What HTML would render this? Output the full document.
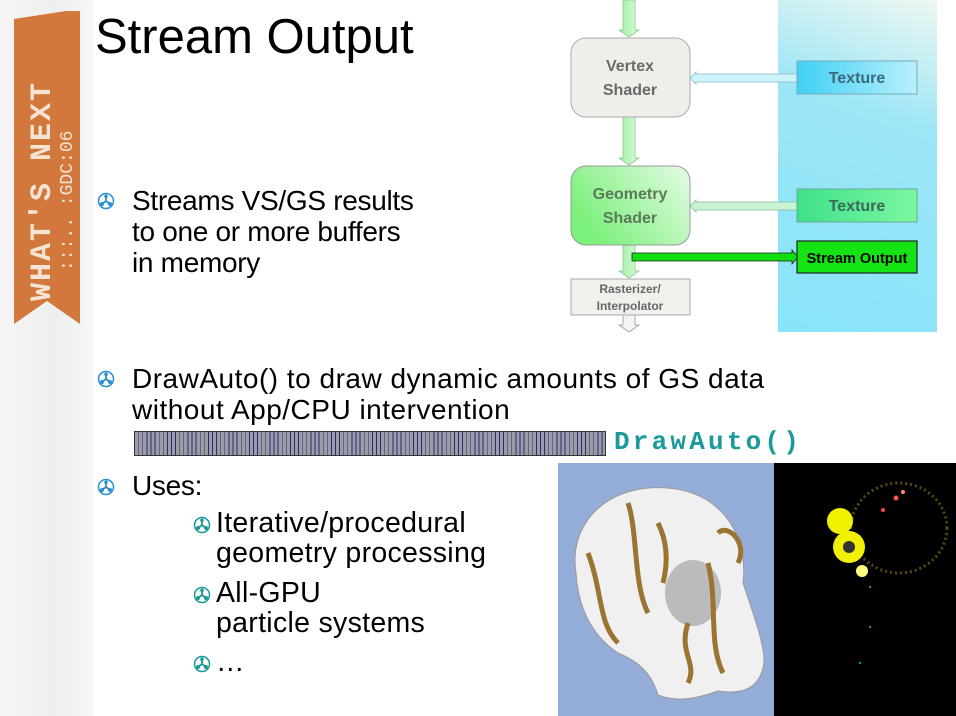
<!DOCTYPE html>
<html><head><meta charset="utf-8"><style>
body{margin:0;width:956px;height:716px;overflow:hidden;background:#fff;position:relative;font-family:"Liberation Sans",sans-serif}
.a{position:absolute;white-space:nowrap}
.t{font-size:28px;color:#000;line-height:31px;letter-spacing:-0.3px}
.s{font-size:28.5px;line-height:30px;letter-spacing:0.3px}
</style></head><body>
<div class="a" style="left:0;top:0;width:94px;height:716px;background:linear-gradient(90deg,#f4f5f4,#eef0ee 60%,#f6f7f6)"></div>
<svg class="a" style="left:14px;top:11px" width="66" height="313"><polygon points="0,8 52,0 66,0 66,313 33,290 0,313" fill="#d2783c"/>
<text x="0" y="0" transform="translate(36,290) rotate(-90)" font-family="Liberation Mono" font-weight="bold" font-size="30" fill="#f6e3d3" letter-spacing="2">WHAT'S NEXT</text>
<text x="0" y="0" transform="translate(58,260) rotate(-90)" font-family="Liberation Mono" font-size="18" fill="#f6e3d3">:::.. :GDC:06</text></svg>
<div class="a" style="left:95px;top:9px;font-size:49px">Stream Output</div>

<svg width="0" height="0" style="position:absolute"><defs><g id="b"><circle cx="9" cy="9" r="7.5" fill="none" stroke="currentColor" stroke-width="1.5"/><path d="M9 9V4M9 9L5 12M9 9L13 12" stroke="currentColor" stroke-width="1.8"/><circle cx="9" cy="4.3" r="1.8" fill="currentColor"/><circle cx="5" cy="12" r="2" fill="currentColor"/><circle cx="13" cy="12" r="2" fill="currentColor"/></g></defs></svg>
<svg class="a" style="left:97px;top:192px;color:#2a8fd0" width="18" height="18"><use href="#b"/></svg>
<svg class="a" style="left:97px;top:370px;color:#2a8fd0" width="18" height="18"><use href="#b"/></svg>
<svg class="a" style="left:97px;top:478px;color:#2a8fd0" width="18" height="18"><use href="#b"/></svg>
<svg class="a" style="left:193px;top:516px;color:#1a9a9a" width="18" height="18"><use href="#b"/></svg>
<svg class="a" style="left:193px;top:586px;color:#1a9a9a" width="18" height="18"><use href="#b"/></svg>
<svg class="a" style="left:193px;top:655px;color:#1a9a9a" width="18" height="18"><use href="#b"/></svg>

<div class="a t" style="left:132px;top:185px">Streams VS/GS results<br>to one or more buffers<br>in memory</div>
<div class="a t" style="left:132px;top:363px;letter-spacing:0.5px">DrawAuto() to draw dynamic amounts of GS data<br>without App/CPU intervention</div>
<div class="a t" style="left:132px;top:470px">Uses:</div>
<div class="a s" style="left:216px;top:508px">Iterative/procedural<br>geometry processing</div>
<div class="a s" style="left:216px;top:578px">All-GPU<br>particle systems</div>
<div class="a s" style="left:216px;top:647px">…</div>

<div class="a" style="left:134px;top:431px;width:470px;height:23px;border:1px solid #333;background:repeating-linear-gradient(90deg,#9c9ca4 0,#9c9ca4 3.3px,#2a2a7a 3.3px,#2a2a7a 4.1px)"></div>
<div class="a" style="left:614px;top:427px;font-family:'Liberation Mono',monospace;font-weight:bold;font-size:26px;letter-spacing:3.2px;color:#1a9a9a">DrawAuto()</div>

<div class="a" style="left:778px;top:0;width:159px;height:332px;background:linear-gradient(200deg,#eef7f2 0%,#9ce6f6 35%,#88e4fa 100%)"></div>
<svg class="a" style="left:560px;top:0" width="396" height="340">
<defs><linearGradient id="ga" x1="0" x2="1"><stop offset="0" stop-color="#9af0a0"/><stop offset="1" stop-color="#dcfadc"/></linearGradient>
<linearGradient id="gg" x1="0" y1="0.5" x2="1" y2="0"><stop offset="0" stop-color="#7cf07c"/><stop offset="1" stop-color="#e6fbe6"/></linearGradient>
<linearGradient id="gt" x1="0" x2="1"><stop offset="0" stop-color="#40d0f4"/><stop offset="1" stop-color="#b8f0fc"/></linearGradient>
<linearGradient id="gt2" x1="0" x2="1"><stop offset="0" stop-color="#3ee08a"/><stop offset="1" stop-color="#7cf8a0"/></linearGradient></defs>
<path d="M63 0V30H59L69 37L79 30H75V0Z" fill="url(#ga)" stroke="#8c8" stroke-width="0.8"/>
<path d="M63 117V158H59L69 165L79 158H75V117Z" fill="url(#ga)" stroke="#8c8" stroke-width="0.8"/>
<path d="M63 245V271H59L69 278L79 271H75V245Z" fill="url(#ga)" stroke="#8c8" stroke-width="0.8"/>
<path d="M63 315V325H59L69 332L79 325H75V315Z" fill="#f4f4f0" stroke="#999" stroke-width="0.8"/>
<rect x="11" y="38" width="119" height="79" rx="15" fill="#efefea" stroke="#aaa"/>
<rect x="11" y="166" width="119" height="79" rx="15" fill="url(#gg)" stroke="#999"/>
<rect x="11" y="279" width="119" height="36" fill="#f0f0ec" stroke="#aaa"/>
<path d="M130 78L136 72V74H239V82H136V84Z" fill="#cdf3fb" stroke="#8bc" stroke-width="0.8"/>
<path d="M130 206L136 200V202H239V210H136V212Z" fill="#c8f4d4" stroke="#8b9" stroke-width="0.8"/>
<path d="M72 253H232V250L238 257L232 264V261H72Z" fill="#10e010" stroke="#222" stroke-width="0.8"/>
<rect x="237" y="61" width="120" height="33" fill="url(#gt)" stroke="#7ab"/>
<rect x="237" y="189" width="120" height="33" fill="url(#gt2)" stroke="#6a9"/>
<rect x="237" y="241" width="120" height="32" fill="#14e414" stroke="#222" stroke-width="1.2"/>
<g font-family="Liberation Sans" font-weight="bold" text-anchor="middle">
<text x="70" y="71" font-size="16" fill="#6a6a6a">Vertex</text><text x="70" y="95" font-size="16" fill="#6a6a6a">Shader</text>
<text x="70" y="199" font-size="16" fill="#5a7a5a">Geometry</text><text x="70" y="223" font-size="16" fill="#5a7a5a">Shader</text>
<text x="70" y="293" font-size="12" fill="#666">Rasterizer/</text><text x="70" y="310" font-size="12" fill="#666">Interpolator</text>
<text x="297" y="83" font-size="16" fill="#3a6a7a">Texture</text>
<text x="297" y="211" font-size="16" fill="#3a6a5a">Texture</text>
<text x="297" y="263" font-size="14.5" fill="#000">Stream Output</text></g>
</svg>

<div class="a" style="left:558px;top:463px;width:216px;height:253px;background:#94acd8"></div>
<svg class="a" style="left:558px;top:463px" width="216" height="253">
<path d="M18 110C10 60 50 20 110 25C170 30 190 80 185 120C195 150 210 190 205 205C200 225 185 232 160 228C140 235 120 240 100 232C95 215 85 200 60 190C30 170 20 140 18 110Z" fill="#f0f0f0" stroke="#999"/>
<ellipse cx="135" cy="130" rx="28" ry="33" fill="#bbb"/>
<g stroke="#9a7430" stroke-width="5" fill="none"><path d="M30 90C45 130 40 160 60 180"/><path d="M70 40C80 70 75 120 90 150"/><path d="M100 60C110 80 110 100 105 120"/><path d="M150 100C160 140 150 180 165 210"/><path d="M130 160C120 190 140 200 130 220"/><path d="M160 70C170 60 190 80 180 100"/></g>
</svg>
<div class="a" style="left:774px;top:463px;width:182px;height:253px;background:#000"></div>
<svg class="a" style="left:774px;top:463px" width="182" height="253">
<ellipse cx="125" cy="65" rx="48" ry="45" fill="none" stroke="#554a10" stroke-width="3" stroke-dasharray="2 3"/>
<circle cx="66" cy="58" r="13" fill="#f0f000"/><circle cx="75" cy="84" r="16" fill="#f0f000"/><circle cx="75" cy="84" r="6" fill="#333"/><circle cx="88" cy="108" r="6" fill="#ffff80"/>
<circle cx="122" cy="35" r="2.5" fill="#f55"/><circle cx="129" cy="29" r="2" fill="#f88"/><circle cx="109" cy="47" r="2" fill="#f44"/><circle cx="96" cy="124" r="1" fill="#0cc"/><circle cx="96" cy="164" r="1" fill="#0cc"/><circle cx="86" cy="200" r="1" fill="#0cc"/>
</svg>
</body></html>
